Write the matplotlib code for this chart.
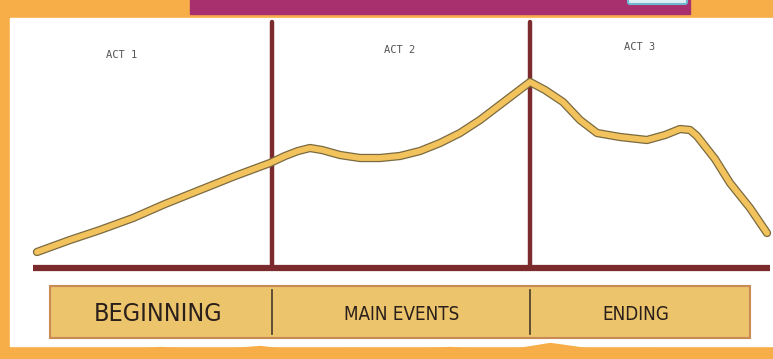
"""
three act structure sketch
"""
import matplotlib.pyplot as plt
import matplotlib.patheffects as pe
from matplotlib.patches import Rectangle, FancyBboxPatch

# story curve (pixel units, y downwards)
curve_x = [37, 70, 100, 133, 165, 200, 235, 270, 285, 298, 310, 322, 340, 360, 380, 400, 420, 440, 460,
           480, 505, 530, 545, 563, 580, 597, 620, 647, 665, 680, 690, 697, 715, 730, 750, 767]
curve_y = [252, 240, 230, 218, 204, 190, 176, 163, 156, 151, 148, 150, 155, 158, 158, 156, 151, 143, 133,
           120, 101, 82, 90, 102, 120, 133, 137, 140, 135, 129, 130, 136, 159, 183, 208, 233]

act_labels = ['ACT 1', 'ACT 2', 'ACT 3']
act_label_x = [122, 400, 640]
act_label_y = [55, 50, 47]
act_splits = [272, 530]
part_labels = ['BEGINNING', 'MAIN EVENTS', 'ENDING']
part_label_x = [158, 402, 636]
part_label_size = [18, 13.5, 13.5]

W, H = 773, 359
fig = plt.figure(figsize=(W / 100, H / 100), dpi=100)
fig.patch.set_facecolor('#F7AE48')
ax = fig.add_axes([0, 0, 1, 1])
ax.set_xlim(0, W)
ax.set_ylim(H, 0)
ax.axis('off')

maroon = '#7B2A2E'

# top strip
ax.add_patch(Rectangle((190, 0), 500, 14, color='#A8306E', zorder=1))
ax.add_patch(FancyBboxPatch((630, -10), 55, 12, boxstyle='round,pad=2', fc='#DDEFF5', ec='#6FB7CF', lw=1.5, zorder=2))

# white sheet
ax.add_patch(Rectangle((10, 18), W - 10, 328, color='white', zorder=1))

# bottom wavy orange edge
wx = [10, 60, 110, 160, 210, 260, 300, 350, 400, 450, 500, 550, 600, 650, 700, 773]
wy = [352, 349, 351, 347, 350, 346, 351, 348, 350, 347, 351, 343, 350, 348, 351, 349]
ax.fill_between(wx, wy, H, color='#F7AE48', zorder=2)

# act dividers and baseline
for x in act_splits:
    ax.plot([x, x], [22, 268], color=maroon, lw=3.2, solid_capstyle='round', zorder=3)
ax.plot([33, 770], [268, 268], color=maroon, lw=4.5, solid_capstyle='butt', zorder=3)

for t, x, y in zip(act_labels, act_label_x, act_label_y):
    ax.text(x, y, t, fontsize=7.5, color='#555555', ha='center', va='center',
            family='DejaVu Sans Mono', zorder=4)

ax.plot(curve_x, curve_y, color='#F2C25C', lw=4.2, solid_capstyle='round', solid_joinstyle='round', zorder=5,
        path_effects=[pe.Stroke(linewidth=6, foreground='#7A6A40'), pe.Normal()])

# bottom label bar
ax.add_patch(Rectangle((50, 286), 700, 52, fc='#EBC46C', ec='#C98A55', lw=1.5, zorder=3))
for x in act_splits:
    ax.plot([x, x], [290, 334], color='#4A3A2A', lw=1.2, zorder=4)
for t, x, s in zip(part_labels, part_label_x, part_label_size):
    ax.text(x, 314, t, fontsize=s, color='#2A1F1A', ha='center', va='center',
            family='DejaVu Sans', fontstretch='condensed', zorder=5)

fig.savefig('out.png', dpi=100, facecolor=fig.get_facecolor())
